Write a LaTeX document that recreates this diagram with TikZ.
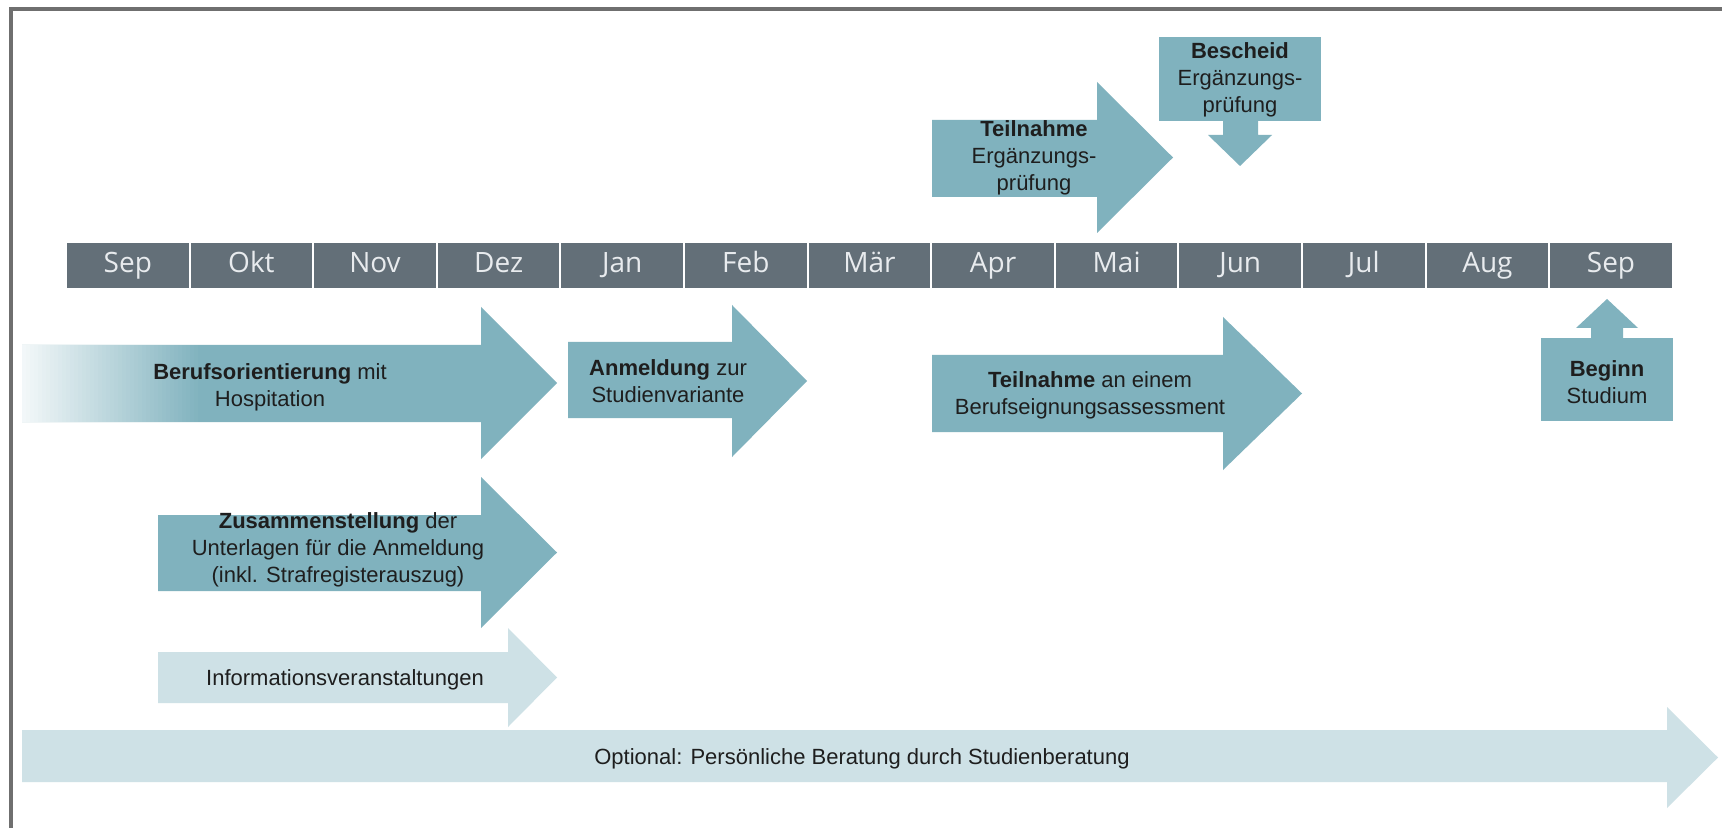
\documentclass[tikz,border=0pt]{standalone}
\usepackage{fontspec}
\setmainfont{Liberation Sans}
\newfontfamily\monthfont{Open Sans}
\definecolor{arrowteal}{HTML}{80B2BE}
\definecolor{arrowlight}{HTML}{CEE1E6}
\definecolor{barslate}{HTML}{636F78}
\definecolor{framegray}{HTML}{6F6F6F}
\definecolor{txtdark}{HTML}{1E1E1E}
\definecolor{monthtext}{HTML}{E8EBEE}
% right-pointing block arrow: #1 style, #2 x start, #3 x head base, #4 x tip,
% #5 body top, #6 body bottom, #7 head top, #8 head bottom
\newcommand\RArr[8]{%
  \path[#1] (#2,#5) -- (#3,#5) -- (#3,#7) -- (#4,{(#7+#8)/2}) -- (#3,#8) -- (#3,#6) -- (#2,#6) -- cycle;}
\begin{document}
\begin{tikzpicture}[x=0.5pt,y=-0.5pt,
  lbl/.style={font=\fontsize{11}{13.5}\selectfont, align=center, text=txtdark, inner sep=0pt},
  monthlbl/.style={font=\monthfont\fontsize{14}{16}\selectfont, text=monthtext, fill=barslate,
    draw=white, line width=1pt, minimum width=61.8pt, minimum height=23.5pt, inner sep=0pt, outer sep=0pt,
    text height=10.2pt, text depth=3.2pt},
  darkfill/.style={fill=arrowteal},
  lightfill/.style={fill=arrowlight}]
\useasboundingbox (0,0) rectangle (1722,828);
\fill[white] (0,0) rectangle (1722,828);
% frame
\draw[framegray, line width=2.4pt] (1740,9) -- (11,9) -- (11,850);

% month bar
\foreach \m [count=\i from 0] in {Sep,Okt,Nov,Dez,Jan,Feb,Mär,Apr,Mai,Jun,Jul,Aug,Sep}
  \node[monthlbl] (m\i) at ({66+123.6*(\i+0.5)},265.5) {\m};

% Teilnahme Ergaenzungspruefung
\RArr{darkfill}{932}{1097}{1173}{120}{197}{82}{233}
\node[lbl] (teil) at (1034,158) {\textbf{Teilnahme}\\Ergänzungs-\\prüfung};

% Bescheid
\fill[arrowteal] (1159,37) rectangle (1321,121);
\fill[arrowteal] (1223,120) -- (1258,120) -- (1258,135) -- (1272,135) -- (1240,166) -- (1208,135) -- (1223,135) -- cycle;
\node[lbl] (besch) at (1240,80) {\textbf{Bescheid}\\Ergänzungs-\\prüfung};

% Berufsorientierung (with fade-in on the left)
\RArr{darkfill}{22}{481}{557}{345}{422}{307}{459}
\foreach \k in {0,...,44}{
  \pgfmathsetmacro\pct{10+90*\k/44}
  \fill[arrowteal!\pct!white] ({22+4*\k},345) rectangle ({26.6+4*\k},422);
}
\node[lbl] (beruf) at (270,387) {\textbf{Berufsorientierung} mit\\Hospitation};

% Anmeldung
\RArr{darkfill}{568}{732}{807}{342}{418}{305}{457}
\node[lbl] (anm) at (668,381) {\textbf{Anmeldung} zur\\Studienvariante};

% Assessment
\RArr{darkfill}{932}{1223}{1302}{355}{432}{317}{470}
\node[lbl] (assess) at (1090,395) {\textbf{Teilnahme} an einem\\Berufseignungsassessment};

% Beginn Studium
\fill[arrowteal] (1541,338) rectangle (1673,421);
\fill[arrowteal] (1591,339) -- (1591,328) -- (1576,328) -- (1607,299) -- (1638,328) -- (1623,328) -- (1623,339) -- cycle;
\node[lbl] (beginn) at (1607,382) {\textbf{Beginn}\\Studium};

% Zusammenstellung
\RArr{darkfill}{158}{481}{557}{515}{591}{477}{628}
\node[lbl] (zus) at (338,550) {\textbf{Zusammenstellung} der\\Unterlagen für die Anmeldung\\(inkl. Strafregisterauszug)};

% Informationsveranstaltungen
\RArr{lightfill}{158}{508}{557}{652}{703}{628}{727}
\node[lbl] (info) at (345,680) {Informationsveranstaltungen};

% Optional
\RArr{lightfill}{22}{1667}{1718}{730}{782}{707}{808}
\node[lbl] (opt) at (862,759) {Optional: Persönliche Beratung durch Studienberatung};
\end{tikzpicture}
\end{document}
